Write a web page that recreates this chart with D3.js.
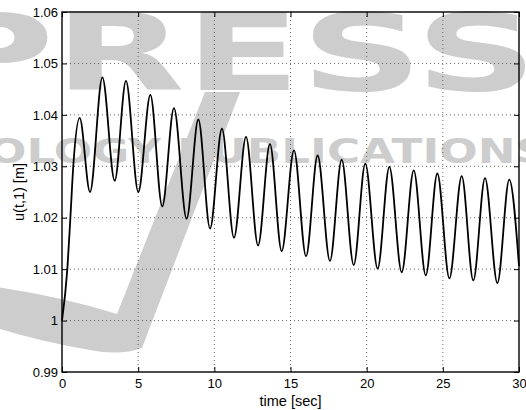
<!DOCTYPE html>
<html>
<head>
<meta charset="utf-8">
<script src="https://cdn.jsdelivr.net/npm/d3@7"></script>
<style>
	body { margin: 0; background: #fff; }
	svg { display: block; font-family: "Liberation Sans", Arial, sans-serif; }
	.wm { fill: #cdcdcd; font-family: "DejaVu Sans", sans-serif; font-weight: bold; }
	.grid line { stroke: #555; stroke-width: 0.9; stroke-dasharray: 1,3; }
	.axis text { font-size: 13px; fill: #000; }
	.axis line { stroke: #000; stroke-width: 1; }
	.axis path { display: none; }
</style>
</head>
<body>
<div id="chart"></div>
<script>
// time stamps (sec) and displacement u(t,1) (m), peaks and troughs
var tVals = [0, 0.35, 0.55, 0.74, 1.16, 1.84, 2.65, 3.46, 4.20, 5.01, 5.80, 6.58, 7.35, 8.18, 8.95, 9.72,
	10.50, 11.29, 12.08, 12.87, 13.65, 14.42, 15.23, 16.02, 16.78, 17.59, 18.36, 19.15, 19.91, 20.72,
	21.49, 22.30, 23.09, 23.88, 24.64, 25.43, 26.24, 27.00, 27.77, 28.58, 29.36, 30.0];
var uVals = [1.0, 1.01, 1.02, 1.03, 1.0394, 1.0250, 1.0473, 1.0272, 1.0466, 1.0250, 1.0439, 1.0222, 1.0413, 1.0198, 1.0391, 1.0179,
	1.0373, 1.0161, 1.0357, 1.0146, 1.0343, 1.0135, 1.0331, 1.0125, 1.0321, 1.0116, 1.0313, 1.0108, 1.0305, 1.0101,
	1.0299, 1.0094, 1.0292, 1.0088, 1.0286, 1.0082, 1.0281, 1.0078, 1.0277, 1.0073, 1.0274, 1.0106];

var xTicks = [0, 5, 10, 15, 20, 25, 30];
var yTicks = [0.99, 1.0, 1.01, 1.02, 1.03, 1.04, 1.05, 1.06];
var yTickLabels = ["0.99", "1", "1.01", "1.02", "1.03", "1.04", "1.05", "1.06"];
var xLabel = "time [sec]", yLabel = "u(t,1) [m]";

var W = 526, H = 410;
var margin = { top: 12, right: 7, bot: 38, left: 62 };
var w = W - margin.left - margin.right, h = H - margin.top - margin.bot;

var svg = d3.select("#chart").append("svg").attr("width", W).attr("height", H);

// publisher watermark behind the plot
var wm = svg.append("g").attr("class", "wm");
wm.append("path")
	.attr("d", "M-10,286 Q60,296 117,314 L205,92 L240,92 L142,348 Q120,356 90,350 Q40,342 -10,326 Z");
wm.append("text").attr("transform", "scale(1.6,1)")
	.attr("x", -70 / 1.6).attr("y", 90).style("font-size", "106px").text("PRESS");
wm.append("text").attr("transform", "scale(1.33,1)")
	.attr("x", 161 / 1.33).attr("y", 163).attr("text-anchor", "end").style("font-size", "34px").text("TECHNOLOGY");
wm.append("text").attr("transform", "scale(1.33,1)")
	.attr("x", 177 / 1.33).attr("y", 163).style("font-size", "34px").text("PUBLICATIONS");

var g = svg.append("g").attr("transform", "translate(" + margin.left + "," + margin.top + ")");

var xSc = d3.scaleLinear().domain([0, 30]).range([0, w]);
var ySc = d3.scaleLinear().domain([0.99, 1.06]).range([h, 0]);

// dotted grid
var grid = g.append("g").attr("class", "grid");
grid.selectAll(".gx").data(xTicks.slice(1, -1)).enter().append("line")
	.attr("x1", function(d) { return xSc(d); }).attr("x2", function(d) { return xSc(d); })
	.attr("y1", 0).attr("y2", h);
grid.selectAll(".gy").data(yTicks.slice(1, -1)).enter().append("line")
	.attr("x1", 0).attr("x2", w)
	.attr("y1", function(d) { return ySc(d); }).attr("y2", function(d) { return ySc(d); });

// axes, ticks pointing inwards on all four sides
g.append("g").attr("class", "x axis").attr("transform", "translate(0," + h + ")")
	.call(d3.axisBottom(xSc).tickValues(xTicks).tickSize(-5).tickSizeOuter(0).tickPadding(7).tickFormat(d3.format("d")));
g.append("g").attr("class", "y axis")
	.call(d3.axisLeft(ySc).tickValues(yTicks).tickSize(-5).tickSizeOuter(0).tickPadding(4)
		.tickFormat(function(d, i) { return yTickLabels[i]; }));
g.append("g").attr("class", "x2 axis")
	.call(d3.axisTop(xSc).tickValues(xTicks).tickSize(-5).tickSizeOuter(0).tickFormat(""));
g.append("g").attr("class", "y2 axis").attr("transform", "translate(" + w + ",0)")
	.call(d3.axisRight(ySc).tickValues(yTicks).tickSize(-5).tickSizeOuter(0).tickFormat(""));

g.append("rect").attr("width", w).attr("height", h)
	.attr("fill", "none").attr("stroke", "#000").attr("stroke-width", 1.4);

// response curve
var line = d3.line()
	.x(function(d) { return xSc(d[0]); })
	.y(function(d) { return ySc(d[1]); })
	.curve(d3.curveMonotoneX);
g.append("path").datum(d3.zip(tVals, uVals))
	.attr("d", line).attr("fill", "none").attr("stroke", "#000").attr("stroke-width", 1.8);

// labels
svg.append("text").attr("x", margin.left + w / 2).attr("y", 406)
	.attr("text-anchor", "middle").style("font-size", "14.5px").text(xLabel);
svg.append("text").attr("transform", "translate(24," + (margin.top + h / 2) + ") rotate(-90)")
	.attr("text-anchor", "middle").style("font-size", "14.5px").text(yLabel);
</script>
</body>
</html>
